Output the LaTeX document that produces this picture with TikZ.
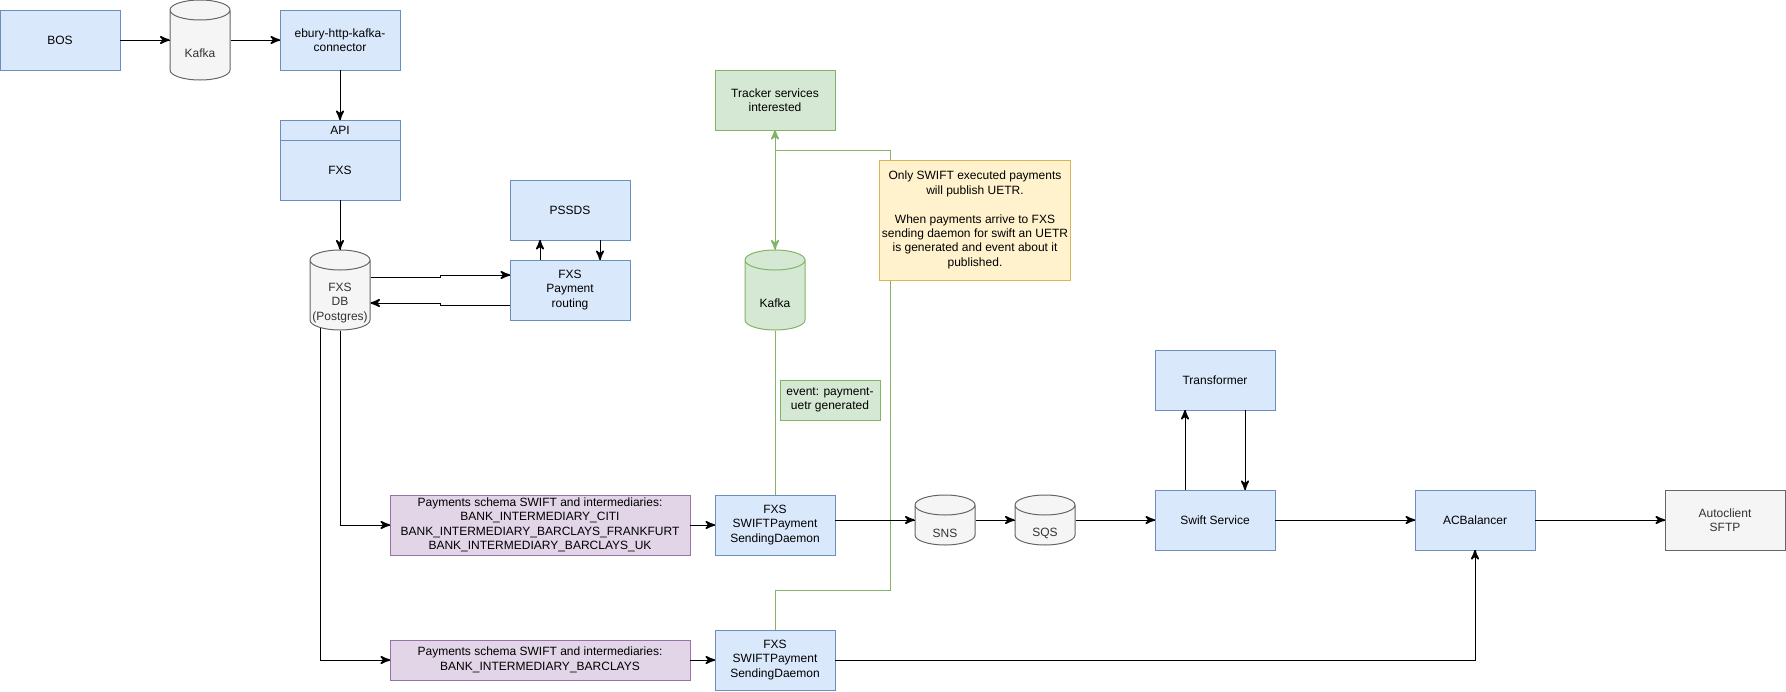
\documentclass[tikz,border=0pt]{standalone}
\usepackage{fontspec}
\setmainfont{Liberation Sans}
\usepackage{tikz}
\usetikzlibrary{arrows}
\usetikzlibrary{decorations.markings}
\definecolor{bluefill}{HTML}{DAE8FC}
\definecolor{blueline}{HTML}{6C8EBF}
\definecolor{grayfill}{HTML}{F5F5F5}
\definecolor{grayline}{HTML}{666666}
\definecolor{graytext}{HTML}{333333}
\definecolor{greenfill}{HTML}{D5E8D4}
\definecolor{greenline}{HTML}{82B366}
\definecolor{yellowfill}{HTML}{FFF2CC}
\definecolor{yellowline}{HTML}{D6B656}
\definecolor{purplefill}{HTML}{E1D5E7}
\definecolor{purpleline}{HTML}{9673A6}
% cylinder outline, drawn inside the node's own box
\newcommand{\drumshape}[2]{%
  \draw [draw=#1, fill=#2]
    ([shift={(0.5pt,-10.5pt)}]path picture bounding box.north west)
    -- ([shift={(0.5pt,10.5pt)}]path picture bounding box.south west)
    arc [start angle=180, end angle=360, x radius=30pt, y radius=10pt]
    -- ([shift={(-0.5pt,-10.5pt)}]path picture bounding box.north east)
    arc [start angle=0, end angle=180, x radius=30pt, y radius=10pt] -- cycle
    ([shift={(0.5pt,-10.5pt)}]path picture bounding box.north west)
    arc [start angle=180, end angle=360, x radius=30pt, y radius=10pt];}
\tikzset{arr/.style = {decoration={markings,
                                   mark=at position 1 with {\arrow[scale=1.7]{stealth'}}},
                       postaction={decorate}}}
\tikzset{box/.style = {draw, rectangle, minimum width=120, minimum height=60,
                       inner sep=2, outer sep=0, align=center}}
\tikzset{bluebox/.style = {box, draw=blueline, fill=bluefill}}
\tikzset{greenbox/.style = {box, draw=greenline, fill=greenfill}}
\tikzset{graybox/.style = {box, draw=grayline, fill=grayfill, text=graytext}}
\tikzset{purplebox/.style = {box, draw=purpleline, fill=purplefill, minimum width=300}}
\tikzset{notebox/.style = {box, draw=yellowline, fill=yellowfill, minimum width=190, minimum height=120}}
\tikzset{drum/.style = {rectangle, minimum width=61, minimum height=81, inner sep=0, outer sep=0}}
\tikzset{graydrum/.style = {drum, path picture={\drumshape{grayline}{grayfill}}}}
\tikzset{greendrum/.style = {drum, path picture={\drumshape{greenline}{greenfill}}}}
\tikzset{drumtext/.style = {align=center, yshift=-13, inner sep=0}}

\begin{document}
\begin{tikzpicture}[x=1pt, y=-1pt, line width=1pt, font=\fontsize{12}{14.4}\selectfont]
    \useasboundingbox (0, 0) rectangle (1786, 691);

    \node [bluebox] (bos) at (60, 40) {BOS};
    \node [graydrum, label={[drumtext, text=graytext]center:Kafka}] (kafka) at (200, 40) {};
    \node [bluebox] (connector) at (340, 40) {ebury-http-kafka-\\connector};
    \node [bluebox, minimum height=20] (api) at (340, 130) {API};
    \node [bluebox] (fxs) at (340, 170) {FXS};
    \node [graydrum, label={[drumtext, text=graytext]center:FXS\\DB\\(Postgres)}] (db) at (340, 290) {};
    \node [bluebox] (pssds) at (570, 210) {PSSDS};
    \node [bluebox] (routing) at (570, 290) {FXS\\Payment\\routing};

    \draw [arr] (bos) -- (kafka);
    \draw [arr] (kafka) -- (connector);
    \draw [arr] (connector) -- (api);
    \draw [arr] (fxs) -- (db);
    \draw [arr] (db.east |- 0,277) -- (440, 277) -- (440, 275) -- (routing.west |- 0,275);
    \draw [arr] (routing.west |- 0,305) -- (440, 305) -- (440, 303) -- (db.east |- 0,303);
    \draw [arr] (routing.north -| 540,0) -- (pssds.south -| 540,0);
    \draw [arr] (pssds.south -| 600,0) -- (routing.north -| 600,0);

    \node [purplebox] (schema1) at (540, 525) {Payments schema SWIFT and intermediaries:\\BANK\_INTERMEDIARY\_CITI\\BANK\_INTERMEDIARY\_BARCLAYS\_FRANKFURT\\BANK\_INTERMEDIARY\_BARCLAYS\_UK};
    \node [purplebox, minimum height=40] (schema2) at (540, 660) {Payments schema SWIFT and intermediaries:\\BANK\_INTERMEDIARY\_BARCLAYS};
    \node [bluebox] (daemon1) at (775, 525) {FXS\\SWIFTPayment\\SendingDaemon};
    \node [bluebox] (daemon2) at (775, 660) {FXS\\SWIFTPayment\\SendingDaemon};

    \draw [arr] (db.south) |- (schema1);
    \draw [arr] ([xshift=-20, yshift=2.5]db.south) |- (schema2);
    \draw [arr] (schema1) -- (daemon1);
    \draw [arr] (schema2) -- (daemon2);

    % tracking branch
    \node [greenbox] (tracker) at (775, 100) {Tracker services\\interested};
    \node [greendrum, label={[drumtext]center:Kafka}] (kafkaevt) at (775, 290) {};
    \node [greenbox, minimum width=100, minimum height=40] (event) at (830, 400) {event: payment-\\uetr generated};
    \coordinate (turn) at (890, 150);
    \draw [greenline, arr] (kafkaevt) -- (tracker);
    \draw [greenline] (daemon1) -- (kafkaevt);
    \draw [greenline, arr] (daemon2.north) -- ++(0, -40) -| (turn) -| (kafkaevt.north);
    \node [notebox] (note) at (975, 220) {Only SWIFT executed payments\\will publish UETR.\\[14.4pt]When payments arrive to FXS\\sending daemon for swift an UETR\\is generated and event about it\\published.};

    % delivery chain
    \node [graydrum, minimum height=51, label={[drumtext, text=graytext]center:SNS}] (sns) at (945, 520) {};
    \node [graydrum, minimum height=51, label={[drumtext, text=graytext]center:SQS}] (sqs) at (1045, 520) {};
    \node [bluebox] (swift) at (1215, 520) {Swift Service};
    \node [bluebox] (transformer) at (1215, 380) {Transformer};
    \node [bluebox] (acb) at (1475, 520) {ACBalancer};
    \node [graybox] (autoclient) at (1725, 520) {Autoclient\\SFTP};

    \draw [arr] (daemon1.east |- sns) -- (sns);
    \draw [arr] (sns) -- (sqs);
    \draw [arr] (sqs) -- (swift);
    \draw [arr] (swift.north -| 1185,0) -- (transformer.south -| 1185,0);
    \draw [arr] (transformer.south -| 1245,0) -- (swift.north -| 1245,0);
    \draw [arr] (swift) -- (acb);
    \draw [arr] (acb) -- (autoclient);
    \draw [arr] (daemon2) -| (acb);
\end{tikzpicture}
\end{document}
